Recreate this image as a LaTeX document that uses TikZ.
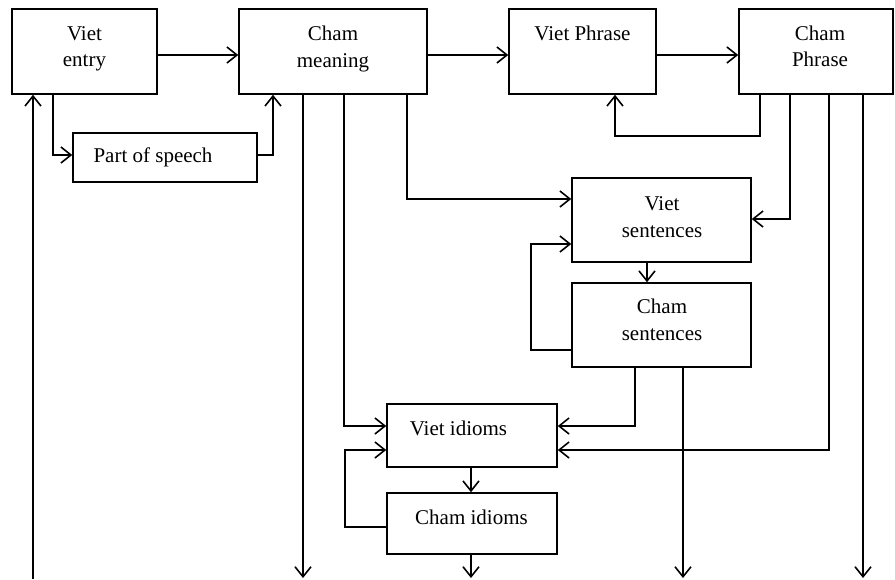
\documentclass[tikz,border=0pt]{standalone}
\usepackage{fontspec}
\setmainfont{Liberation Serif}
\usetikzlibrary{arrows.meta}
\begin{document}
\begin{tikzpicture}[x=1pt,y=-1pt,
  box/.style={draw, line width=1.6pt, inner sep=0pt},
  txt/.style={inner sep=0pt, align=center, font=\fontsize{21}{26.5}\selectfont},
  conn/.style={line width=1.6pt},
  arr/.style={conn, -{Straight Barb[length=10pt,width=16pt,line width=1.6pt]}}]
\useasboundingbox (0,0) rectangle (895,579);
% boxes
\node[box, minimum width=145pt, minimum height=85pt] (ve) at (84.5,51.5) {};
\node[box, minimum width=188pt, minimum height=85pt] (cm) at (333,51.5) {};
\node[box, minimum width=147pt, minimum height=85pt] (vp) at (582.5,51.5) {};
\node[box, minimum width=154pt, minimum height=85pt] (cp) at (816,51.5) {};
\node[box, minimum width=184pt, minimum height=49pt] (pos) at (165,157.5) {};
\node[box, minimum width=179pt, minimum height=84pt] (vs) at (661.5,220) {};
\node[box, minimum width=179pt, minimum height=84pt] (cs) at (661.5,325) {};
\node[box, minimum width=170pt, minimum height=63pt] (vi) at (472,435.5) {};
\node[box, minimum width=170pt, minimum height=61pt] (ci) at (472,523.5) {};
% texts
\node[txt] (tve) at (84.5,49) {Viet\\entry};
\node[txt] (tcm) at (333,49) {Cham\\meaning};
\node[txt] (tvp) at (582.5,33) {Viet Phrase};
\node[txt] (tcp) at (820,46.5) {Cham\\Phrase};
\node[txt] (tvs) at (662,217) {Viet\\sentences};
\node[txt] (tcs) at (662,320) {Cham\\sentences};
\node[txt] (tpos) at (153,157) {Part of speech};
\node[txt] (tvi) at (458.5,428) {Viet idioms};
\node[txt] (tci) at (471.5,517) {Cham idioms};
% free ends
\coordinate (bL) at (33,579);
\coordinate (b1) at (303,578);
\coordinate (b2) at (471,578);
\coordinate (b3) at (683,578);
\coordinate (b4) at (863,578);
% connectors
\draw[arr] (ve.east |- 0,55) -- (cm.west |- 0,55);
\draw[arr] (cm.east |- 0,55) -- (vp.west |- 0,55);
\draw[arr] (vp.east |- 0,55) -- (cp.west |- 0,55);
\draw[arr] (ve.south -| 53,0) |- (pos.west |- 0,155);
\draw[arr] (pos.east |- 0,155) -| (cm.south -| 273,0);
\draw[arr] (bL) -- (ve.south -| bL);
\draw[arr] (cm.south -| b1) -- (b1);
\draw[arr] (cm.south -| 344,0) |- (vi.west |- 0,426);
\draw[arr] (cm.south -| 407,0) |- (vs.west |- 0,199);
\draw[arr] (cp.south -| 760,0) |- (615,136) -- (vp.south -| 615,0);
\draw[arr] (cp.south -| 790,0) |- (vs.east |- 0,219);
\draw[arr] (cp.south -| 829,0) |- (vi.east |- 0,450);
\draw[arr] (cp.south -| b4) -- (b4);
\draw[arr] (vs.south -| 647,0) -- (cs.north -| 647,0);
\draw[arr] (cs.west |- 0,350) -| (531,244) -- (vs.west |- 0,244);
\draw[arr] (cs.south -| 635,0) |- (vi.east |- 0,426);
\draw[arr] (cs.south -| b3) -- (b3);
\draw[arr] (vi.south -| b2) -- (ci.north -| b2);
\draw[arr] (ci.south -| b2) -- (b2);
\draw[arr] (ci.west |- 0,527) -| (345,450) -- (vi.west |- 0,450);
\end{tikzpicture}
\end{document}
